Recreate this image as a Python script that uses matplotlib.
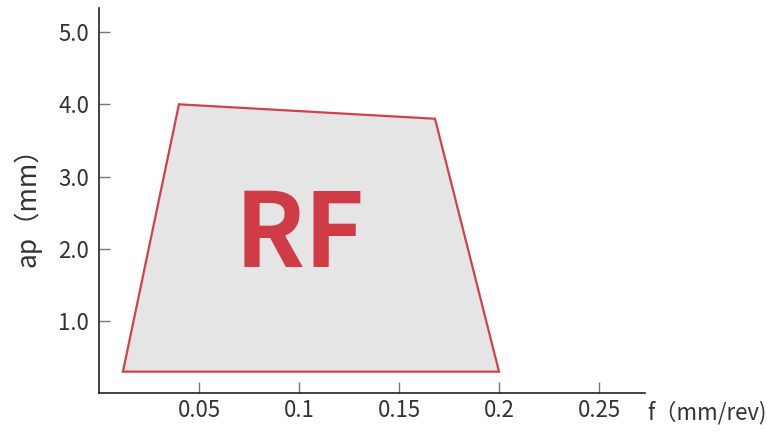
import matplotlib.pyplot as plt

plt.rcParams['font.family'] = ['Noto Sans CJK SC', 'DejaVu Sans']

# polygon corners of the RF region (f in mm/rev, ap in mm)
f_vals = [0.012, 0.04, 0.168, 0.2]
ap_vals = [0.3, 4.0, 3.8, 0.3]
region_label = "RF"
region_pos = (0.1005, 2.17)

x_ticks = [0.05, 0.1, 0.15, 0.2, 0.25]
x_ticklabels = ["0.05", "0.1", "0.15", "0.2", "0.25"]
y_ticks = [1.0, 2.0, 3.0, 4.0, 5.0]
y_ticklabels = ["1.0", "2.0", "3.0", "4.0", "5.0"]

fig = plt.figure(figsize=(7.67, 4.32), dpi=100)
ax = fig.add_axes([0.129, 0.0895, 0.712, 0.8915])

ax.fill(f_vals, ap_vals, facecolor="#e5e5e5", edgecolor="#d0414a", linewidth=1.6, zorder=2)
ax.text(region_pos[0], region_pos[1], region_label, color="#d03c46", fontsize=74,
        fontweight="bold", ha="center", va="center", zorder=3)

ax.set_xlim(0, 0.273)
ax.set_ylim(0, 5.33)
ax.set_xticks(x_ticks)
ax.set_xticklabels(x_ticklabels)
ax.set_yticks(y_ticks)
ax.set_yticklabels(y_ticklabels)

for s in ["top", "right"]:
    ax.spines[s].set_visible(False)
for s in ["left", "bottom"]:
    ax.spines[s].set_color("#222222")
    ax.spines[s].set_linewidth(1.2)

ax.tick_params(direction="in", length=8, width=1, color="#777777",
               labelsize=16, labelcolor="#333333")
ax.tick_params(axis="x", pad=4)
ax.tick_params(axis="y", pad=7)

ax.set_ylabel("ap（mm）", fontsize=19, color="#333333", labelpad=12)
fig.text(0.999, 0.046, "f（mm/rev)", fontsize=16, color="#333333",
         ha="right", va="center")

fig.savefig("out.png", dpi=100)
